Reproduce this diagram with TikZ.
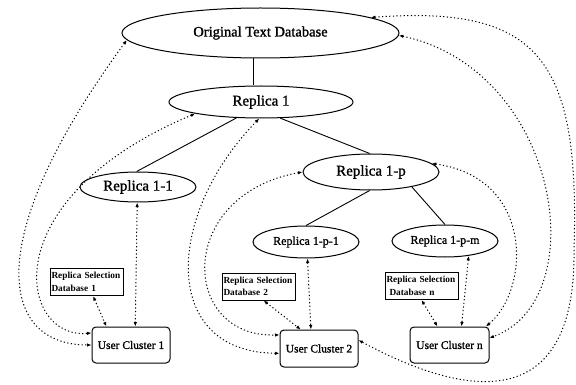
\documentclass[tikz,border=0pt]{standalone}
\usepackage{fontspec}
\setmainfont{Liberation Serif}
\newfontfamily\labelfont[FakeBold=1.3]{Liberation Serif}
\usetikzlibrary{shapes.geometric,arrows.meta}

\begin{document}
\begin{tikzpicture}[x=1pt,y=-1pt,
  repl/.style={ellipse,draw,line width=1pt,inner sep=0pt},
  cluster/.style={draw,line width=1pt,rounded corners=4pt,minimum width=78pt,
    minimum height=36pt,inner sep=0pt,font=\labelfont\fontsize{11.5}{13}\selectfont},
  seldb/.style={draw,line width=1pt,minimum height=27pt,inner sep=1.5pt,
    align=left,text width=70pt,font=\bfseries\fontsize{9.3}{12.5}\selectfont},
  tree/.style={line width=0.9pt},
  tip/.tip={Latex[length=4.5pt,width=3.5pt]},
  link/.style={line width=1pt,dash pattern=on 1.2pt off 2.4pt,tip-tip}
]
\useasboundingbox (0,0) rectangle (576,385);

% databases and replicas
\node[repl,minimum width=277pt,minimum height=50pt,font=\labelfont\fontsize{14.5}{16}\selectfont]
  (otd) at (260.5,33) {Original Text Database};
\node[repl,minimum width=184pt,minimum height=32pt,font=\labelfont\fontsize{15}{17}\selectfont]
  (r1) at (261,102) {Replica 1};
\node[repl,minimum width=116pt,minimum height=30pt,font=\labelfont\fontsize{15}{17}\selectfont]
  (r11) at (138,187) {Replica 1-1};
\node[repl,minimum width=136pt,minimum height=36pt,font=\labelfont\fontsize{15}{17}\selectfont]
  (r1p) at (371,172) {Replica 1-p};
\node[repl,minimum width=106pt,minimum height=32pt,font=\labelfont\fontsize{12}{14}\selectfont]
  (r1p1) at (306,242) {Replica 1-p-1};
\node[repl,minimum width=106pt,minimum height=32pt,font=\labelfont\fontsize{12}{14}\selectfont]
  (r1pm) at (445,241) {Replica 1-p-m};

% user clusters
\node[cluster] (uc1) at (131,345) {User Cluster 1};
\node[cluster,minimum height=37pt] (uc2) at (319,348.5) {User Cluster 2};
\node[cluster,minimum width=79pt] (ucn) at (449.5,345) {User Cluster n};

% replica selection databases
\node[seldb] (rsd1) at (86.5,282) {Replica Selection\\Database 1};
\node[seldb] (rsd2) at (258.5,286.5) {Replica Selection\\Database 2};
\node[seldb] (rsdn) at (421.5,286) {Replica Selection\\\hspace*{3pt}Database n};

% replication tree
\coordinate (tx) at (253,0);
\draw[tree] (otd.south -| tx) -- (r1.north -| tx);
\draw[tree] (r1.213) -- (r11.95);
\draw[tree] (r1.320) -- (r1p.94);
\draw[tree] (r1p.266) -- (r1p1.90);
\draw[tree] (r1p.340) -- (r1pm.90);

% access links, user cluster 1
\draw[link] (otd.183) .. controls (-20,240) and (0,345) .. (uc1.west);
\draw[link] (r1.190) .. controls (-10,200) and (20,340) .. (uc1.163);
\draw[link] (r11.267) -- (uc1.77);
\draw[link] (rsd1.295) -- (uc1.143);

% access links, user cluster 2
\draw[link] (r1.264) .. controls (165,215) and (160,352) .. (uc2.187);
\draw[link] (r1p.180) .. controls (175,195) and (180,338) .. (uc2.161);
\draw[link] (r1p1.275) -- (uc2.113);
\draw[link] (rsd2.290) -- (uc2.134);
\draw[link] (otd.8) .. controls (540,5) and (580,60) .. (574,250)
  .. controls (576,420) and (460,395) .. (uc2.12);

% access links, user cluster n
\draw[link] (rsdn.270) -- (ucn.123);
\draw[link] (r1pm.328) -- (ucn.57);
\draw[link] (r1p.8) .. controls (535,178) and (530,290) .. (ucn.27);
\draw[link] (otd.-1) .. controls (560,70) and (595,300) .. (ucn.10);
\end{tikzpicture}
\end{document}
